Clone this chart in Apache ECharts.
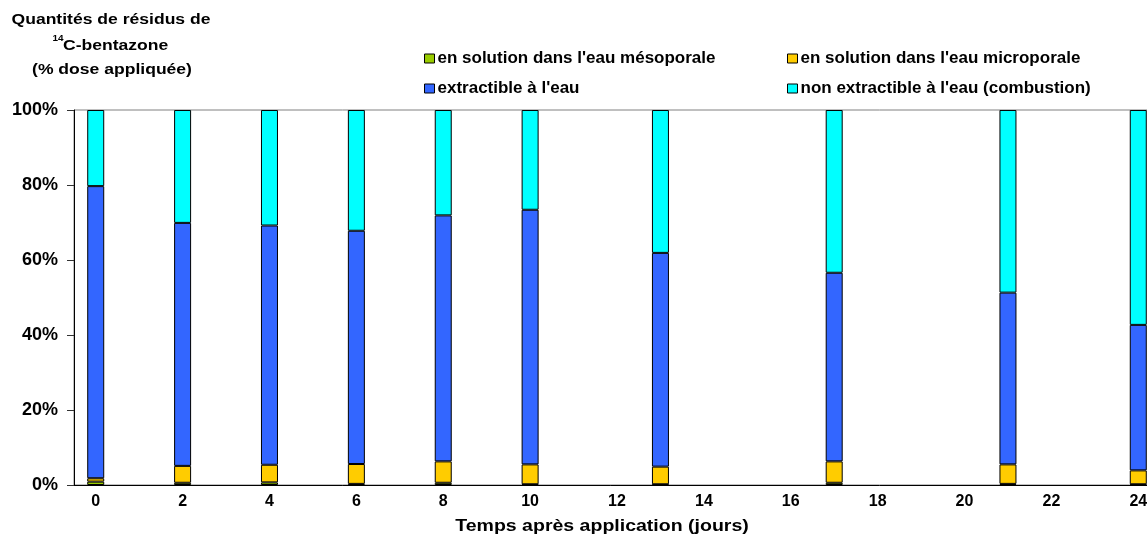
<!DOCTYPE html>
<html>
<head>
<meta charset="utf-8">
<script src="https://cdn.jsdelivr.net/npm/echarts@6/dist/echarts.min.js"></script>
<style>
  html, body { margin: 0; padding: 0; background: #fff; }
  #chart { width: 1147px; height: 537px; }
</style>
</head>
<body>
<div id="chart"></div>
<script>
// axe des x : un jour par catégorie
var categories = ['0', '1', '2', '3', '4', '5', '6', '7', '8', '9', '10', '11', '12',
  '13', '14', '15', '16', '17', '18', '19', '20', '21', '22', '23', '24']

// jours de prélèvement
var days = [0, 2, 4, 6, 8, 10, 13, 17, 21, 24]

// % de la dose appliquée
var mesoporale = [0.9, 0.6, 0.7, 0.3, 0.6, 0.2, 0.2, 0.6, 0.3, 0.2]
var microporale = [0.9, 4.5, 4.7, 5.3, 5.7, 5.3, 4.7, 5.7, 5.2, 3.7]
var extractible = [77.9, 64.8, 63.8, 62.2, 65.6, 67.9, 57.0, 50.3, 45.8, 38.8]
var nonExtractible = [20.3, 30.1, 30.8, 32.2, 28.1, 26.6, 38.1, 43.4, 48.7, 57.3]

var yTicks = [0, 20, 40, 60, 80, 100]

var seriesNames = [
  "en solution dans l'eau mésoporale",
  "en solution dans l'eau microporale",
  "extractible à l'eau",
  "non extractible à l'eau (combustion)"
]
var colors = ['#99CC00', '#FFCC00', '#3366FF', '#00FFFF']

var font = 'Arial, "Liberation Sans", sans-serif'

// remet les valeurs sur les 25 catégories
function spread (vals) {
  return categories.map(function (c) {
    var i = days.indexOf(Number(c))
    return i >= 0 ? vals[i] : null
  })
}

var series = [mesoporale, microporale, extractible, nonExtractible].map(function (vals, i) {
  return {
    name: seriesNames[i],
    type: 'bar',
    stack: 'total',
    barWidth: 17,
    itemStyle: {
      color: colors[i],
      borderColor: '#000',
      borderWidth: 1
    },
    data: spread(vals)
  }
})

// une légende par élément pour placer les colonnes
var legendPos = [[424, 50], [787, 50], [424, 80], [787, 80]]
var legends = seriesNames.map(function (n, i) {
  return {
    data: [n],
    left: legendPos[i][0],
    top: legendPos[i][1],
    icon: 'rect',
    itemWidth: 10,
    itemHeight: 9,
    itemGap: 0,
    padding: 0,
    selectedMode: false,
    itemStyle: { borderColor: '#000', borderWidth: 1 },
    textStyle: { fontFamily: font, fontWeight: 'bold', fontSize: 17, color: '#000', padding: [0, 0, 0, -2] }
  }
})

var titleStyle = { fontFamily: font, fontWeight: 'bold', fontSize: 15, fill: '#000' }

var option = {
  animation: false,
  backgroundColor: '#fff',
  legend: legends,
  grid: {
    left: 74,
    right: -13,
    top: 110,
    bottom: 52,
    outerBoundsMode: 'none',
    show: true,
    borderColor: '#808080',
    borderWidth: 1
  },
  xAxis: {
    type: 'category',
    data: categories,
    axisLine: { lineStyle: { color: '#000', width: 1 } },
    axisTick: { interval: 0, length: 5, lineStyle: { color: '#333' } },
    axisLabel: {
      interval: 1,
      margin: 9,
      fontFamily: font,
      fontWeight: 'bold',
      fontSize: 16,
      color: '#000'
    },
    splitLine: { show: false }
  },
  yAxis: {
    type: 'value',
    min: yTicks[0],
    max: yTicks[yTicks.length - 1],
    interval: yTicks[1] - yTicks[0],
    axisLine: { show: true, lineStyle: { color: '#000', width: 1 } },
    axisTick: { show: true, length: 7, lineStyle: { color: '#333' } },
    axisLabel: {
      margin: 16,
      formatter: '{value}%',
      fontFamily: font,
      fontWeight: 'bold',
      fontSize: 18,
      color: '#000'
    },
    splitLine: { show: false }
  },
  graphic: [
    {
      type: 'text', x: 111, y: 20, scaleX: 1.17,
      style: Object.assign({ text: 'Quantités de résidus de', textAlign: 'center', textVerticalAlign: 'middle' }, titleStyle)
    },
    {
      type: 'text', x: 58, y: 39, scaleX: 1.1,
      style: Object.assign({ text: '14', textAlign: 'center', textVerticalAlign: 'middle' }, titleStyle, { fontSize: 9 })
    },
    {
      type: 'text', x: 63, y: 46, scaleX: 1.17,
      style: Object.assign({ text: 'C-bentazone', textAlign: 'left', textVerticalAlign: 'middle' }, titleStyle)
    },
    {
      type: 'text', x: 112, y: 70, scaleX: 1.17,
      style: Object.assign({ text: '(% dose appliquée)', textAlign: 'center', textVerticalAlign: 'middle' }, titleStyle)
    },
    {
      type: 'text', x: 602, y: 527, scaleX: 1.22,
      style: Object.assign({ text: 'Temps après application (jours)', textAlign: 'center', textVerticalAlign: 'middle' }, titleStyle, { fontSize: 16 })
    }
  ],
  series: series
}

echarts.init(document.getElementById('chart')).setOption(option)
</script>
</body>
</html>
